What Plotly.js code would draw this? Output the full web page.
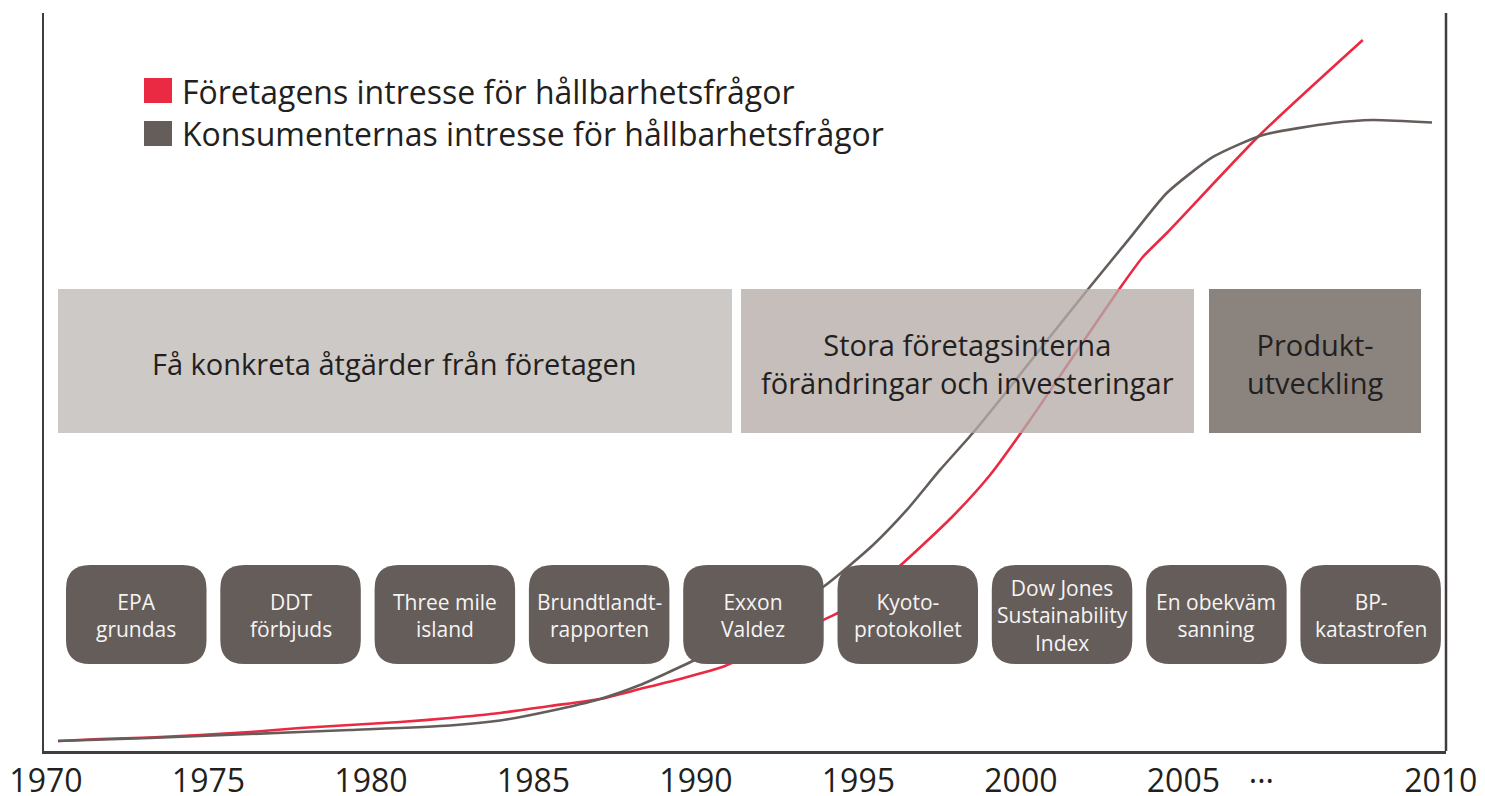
<!DOCTYPE html>
<html>
<head>
<meta charset="utf-8">
<script src="https://cdn.plot.ly/plotly-3.0.1.min.js"></script>
<style>html,body{margin:0;padding:0;background:#fff;}#chart{width:1485px;height:796px;}</style>
</head>
<body>
<div id="chart"></div>
<script>
// ---- Data (x in axis units: 1970–2005 linear, the last stretch compressed as in the original) ----
const seriesNames = ["Företagens intresse för hållbarhetsfrågor", "Konsumenternas intresse för hållbarhetsfrågor"];

const companyX = [1970.37,1971.66,1973.2,1974.74,1976.28,1977.82,1979.35,1980.89,1982.43,1983.97,1985.51,1987.05,1988.28,1989.51,1990.89,1992.58,1993.91,1994.37,1995.35,1996.34,1997.88,1999.05,2000.28,2001.66,2003.05,2003.75,2004.49,2007.35,2010.52];
const companyY = [1.36,1.63,1.83,2.17,2.57,3.12,3.52,3.93,4.47,5.15,6.10,7.05,8.40,9.76,11.52,15.04,17.75,18.70,21.82,25.34,31.71,37.40,44.85,53.8,62.74,66.94,70.19,83.47,96.34];

const consumerX = [1970.37,1973.2,1976.28,1979.35,1982.43,1983.97,1985.51,1987.05,1988.28,1989.11,1990.22,1991.97,1993.91,1995.45,1996.49,1997.51,1998.52,1999.35,2000.74,2002.12,2003.35,2004.49,2005.91,2007.45,2009.6,2010.83,2012.65];
const consumerY = [1.36,1.76,2.30,2.85,3.46,4.13,5.42,7.05,8.94,10.57,12.87,17.07,22.22,27.91,32.66,38.08,43.09,47.56,55.28,62.87,69.5,75.61,80.49,83.47,85.09,85.5,85.16];

const tickVals = [1970,1975,1980,1985,1990,1995,2000,2005,2007.4,2012.92];
const tickText = ["1970","1975","1980","1985","1990","1995","2000","2005","···","2010"];

const phaseLabels = ["Få konkreta åtgärder från företagen", "Stora företagsinterna<br>förändringar och investeringar", "Produkt-<br>utveckling"];
const eventLabels = ["EPA<br>grundas","DDT<br>förbjuds","Three mile<br>island","Brundtlandt-<br>rapporten","Exxon<br>Valdez","Kyoto-<br>protokollet","Dow Jones<br>Sustainability<br>Index","En obekväm<br>sanning","BP-<br>katastrofen"];

// ---- Styling / layout helpers ----
const FONT = "'Open Sans', Lato, sans-serif";
const RED = "#ea2a43", GREY = "#655d5a", AXIS = "#423d3c", TXT = "#231f20";
const PLOT = {l:44, t:13, w:1402, h:738};
const PX = px => (px - PLOT.l) / PLOT.w;
const PY = py => (PLOT.t + PLOT.h - py) / PLOT.h;

function roundRectPath(x0, y0, x1, y1, r) {
  const p = (x, y) => PX(x).toFixed(5) + "," + PY(y).toFixed(5);
  return "M" + p(x0 + r, y0) + " L" + p(x1 - r, y0) + " Q" + p(x1, y0) + " " + p(x1, y0 + r) +
         " L" + p(x1, y1 - r) + " Q" + p(x1, y1) + " " + p(x1 - r, y1) +
         " L" + p(x0 + r, y1) + " Q" + p(x0, y1) + " " + p(x0, y1 - r) +
         " L" + p(x0, y0 + r) + " Q" + p(x0, y0) + " " + p(x0 + r, y0) + " Z";
}

const phaseBoxes = [
  {x0:58, x1:732, fill:"#bfbab6", opacity:0.78},
  {x0:741, x1:1194, fill:"#b5aca8", opacity:0.78},
  {x0:1209, x1:1421, fill:"#8b837d", opacity:1}
];
const phaseTop = 289, phaseBottom = 433;

const eventLeft0 = 66, eventStep = 154.3, eventW = 140.5, eventTop = 565, eventBottom = 664, eventR = 24;

const shapes = [];
const annotations = [];

// right frame line
shapes.push({type:"line", xref:"paper", yref:"paper", x0:1, x1:1, y0:0, y1:1, line:{color:AXIS, width:2.5}, layer:"above"});

phaseBoxes.forEach((b, i) => {
  shapes.push({type:"rect", xref:"paper", yref:"paper", x0:PX(b.x0), x1:PX(b.x1), y0:PY(phaseBottom), y1:PY(phaseTop),
    fillcolor:b.fill, opacity:b.opacity, line:{width:0}, layer:"above"});
  annotations.push({xref:"paper", yref:"paper", x:PX((b.x0 + b.x1) / 2), y:PY((phaseTop + phaseBottom) / 2 + 2),
    text:phaseLabels[i], showarrow:false, xanchor:"center", yanchor:"middle",
    font:{family:FONT, size:29, color:TXT}});
});

eventLabels.forEach((lab, i) => {
  const x0 = eventLeft0 + i * eventStep, x1 = x0 + eventW;
  shapes.push({type:"path", xref:"paper", yref:"paper", path:roundRectPath(x0, eventTop, x1, eventBottom, eventR),
    fillcolor:GREY, line:{width:0}, layer:"above"});
  annotations.push({xref:"paper", yref:"paper", x:PX((x0 + x1) / 2), y:PY((eventTop + eventBottom) / 2 + 1),
    text:lab, showarrow:false, xanchor:"center", yanchor:"middle",
    font:{family:FONT, size:21, color:"#f6f4f3"}});
});

// manual legend
const legendRows = [{color:RED, y0:78, y1:103, ty:91}, {color:GREY, y0:121, y1:146, ty:133}];
legendRows.forEach((r, i) => {
  shapes.push({type:"rect", xref:"paper", yref:"paper", x0:PX(144), x1:PX(172), y0:PY(r.y1), y1:PY(r.y0),
    fillcolor:r.color, line:{width:0}, layer:"above"});
  annotations.push({xref:"paper", yref:"paper", x:PX(180), y:PY(r.ty), text:seriesNames[i], showarrow:false,
    xanchor:"left", yanchor:"middle", font:{family:FONT, size:32, color:TXT}});
});

const traces = [
  {x:companyX, y:companyY, mode:"lines", line:{color:RED, width:2.6, shape:"spline", smoothing:0.6}, name:seriesNames[0], showlegend:false, hoverinfo:"skip"},
  {x:consumerX, y:consumerY, mode:"lines", line:{color:GREY, width:2.6, shape:"spline", smoothing:0.6}, name:seriesNames[1], showlegend:false, hoverinfo:"skip"}
];

const layout = {
  width:1485, height:796,
  margin:{l:PLOT.l, r:1485 - PLOT.l - PLOT.w, t:PLOT.t, b:796 - PLOT.t - PLOT.h, pad:0},
  paper_bgcolor:"#ffffff", plot_bgcolor:"#ffffff",
  showlegend:false,
  xaxis:{range:[1969.94, 2013.08], tickmode:"array", tickvals:tickVals, ticktext:tickText, ticks:"",
    showgrid:false, zeroline:false, showline:true, linecolor:AXIS, linewidth:2.5,
    tickfont:{family:FONT, size:32, color:TXT}, fixedrange:true},
  yaxis:{range:[0, 100], showticklabels:false, ticks:"", showgrid:false, zeroline:false,
    showline:true, linecolor:AXIS, linewidth:2.5, fixedrange:true},
  shapes:shapes,
  annotations:annotations
};

Plotly.newPlot("chart", traces, layout, {displayModeBar:false, staticPlot:true});
</script>
</body>
</html>
